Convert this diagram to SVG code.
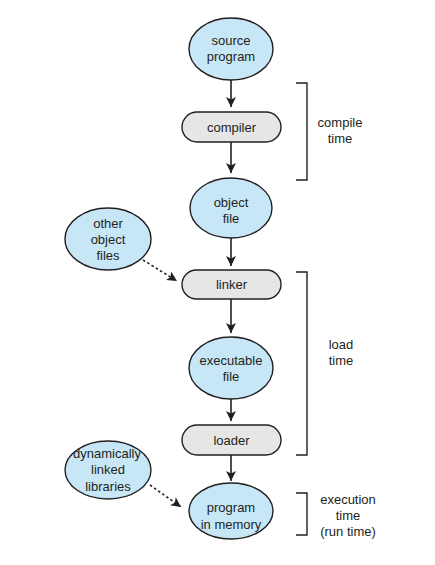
<svg xmlns="http://www.w3.org/2000/svg" width="435" height="565" viewBox="0 0 435 565">
<style>
.ell{fill:#c7e7f7;stroke:#231f20;stroke-width:1.4}
.box{fill:#e6e6e6;stroke:#231f20;stroke-width:1.4}
text{font-family:"Liberation Sans",Arial,sans-serif;font-size:13px;fill:#231f20;text-anchor:middle}
.c{stroke:#231f20;stroke-width:1.6;fill:none}
.d{stroke:#231f20;stroke-width:1.6;fill:none;stroke-dasharray:2.5,2.5}
.br{stroke:#231f20;stroke-width:1.4;fill:none}
</style>
<defs>
<marker id="ah2" viewBox="0 0 10 10" refX="10" refY="5" markerWidth="10" markerHeight="10" markerUnits="userSpaceOnUse" orient="auto">
<path d="M0,0 L10,5 L0,10 L2.5,5 Z" fill="#231f20"/>
</marker>
</defs>
<g id="connectors">
<line class="c" x1="231" y1="80" x2="231" y2="107" marker-end="url(#ah2)"/>
<line class="c" x1="231" y1="142" x2="231" y2="173" marker-end="url(#ah2)"/>
<line class="c" x1="231" y1="238" x2="231" y2="266" marker-end="url(#ah2)"/>
<line class="c" x1="231" y1="299" x2="231" y2="333" marker-end="url(#ah2)"/>
<line class="c" x1="231" y1="399" x2="231" y2="421" marker-end="url(#ah2)"/>
<line class="c" x1="231" y1="455" x2="231" y2="481" marker-end="url(#ah2)"/>
<line class="d" x1="143" y1="260" x2="177" y2="281" marker-end="url(#ah2)"/>
<line class="d" x1="150" y1="485" x2="181" y2="507" marker-end="url(#ah2)"/>
</g>
<g id="source-program">
<ellipse class="ell" cx="231" cy="49" rx="42" ry="31"/>
<text x="231" y="45">source</text>
<text x="231" y="61">program</text>
</g>
<g id="compiler">
<rect class="box" x="182" y="112" width="99" height="30" rx="15"/>
<text x="231.5" y="131.5">compiler</text>
</g>
<g id="object-file">
<ellipse class="ell" cx="231" cy="208" rx="41" ry="30"/>
<text x="231" y="207">object</text>
<text x="231" y="223">file</text>
</g>
<g id="other-object-files">
<ellipse class="ell" cx="108" cy="239" rx="43" ry="31"/>
<text x="108" y="228">other</text>
<text x="108" y="244">object</text>
<text x="108" y="260">files</text>
</g>
<g id="linker">
<rect class="box" x="182" y="270" width="99" height="29" rx="14.5"/>
<text x="231.5" y="289">linker</text>
</g>
<g id="executable-file">
<ellipse class="ell" cx="231" cy="368" rx="42" ry="31"/>
<text x="231" y="365">executable</text>
<text x="231" y="381">file</text>
</g>
<g id="loader">
<rect class="box" x="182" y="425" width="99" height="30" rx="15"/>
<text x="231.5" y="444.5">loader</text>
</g>
<g id="dynamically-linked-libraries">
<ellipse class="ell" cx="108" cy="470" rx="43" ry="29"/>
<text x="107" y="458">dynamically</text>
<text x="108" y="474">linked</text>
<text x="108" y="491">libraries</text>
</g>
<g id="program-in-memory">
<ellipse class="ell" cx="231" cy="511" rx="42" ry="28"/>
<text x="231" y="512">program</text>
<text x="231" y="529">in memory</text>
</g>
<g id="compile-time">
<path class="br" d="M296,83 H307 V180 H296"/>
<text x="340" y="127">compile</text>
<text x="340" y="143">time</text>
</g>
<g id="load-time">
<path class="br" d="M296,272 H307 V455 H296"/>
<text x="341" y="349">load</text>
<text x="341" y="365">time</text>
</g>
<g id="execution-time">
<path class="br" d="M296,493 H307 V535 H296"/>
<text x="348" y="504">execution</text>
<text x="348" y="520">time</text>
<text x="348" y="536">(run time)</text>
</g>
</svg>
